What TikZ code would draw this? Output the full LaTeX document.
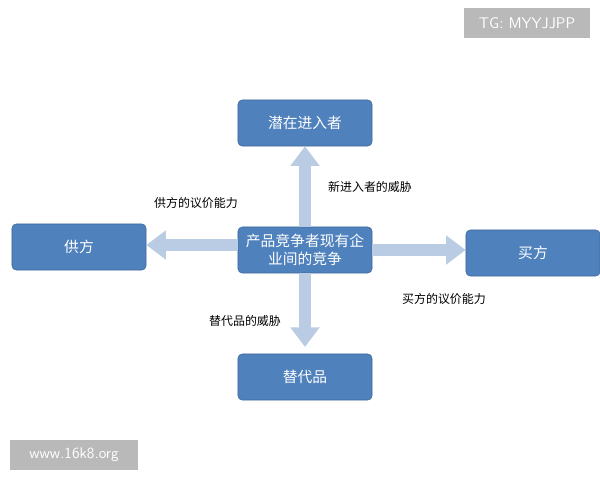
\documentclass[tikz,border=0pt]{standalone}
\usepackage{fontspec}
\setmainfont{Noto Sans CJK SC}
\usetikzlibrary{arrows.meta, positioning}
\definecolor{boxblue}{HTML}{4F81BD}
\definecolor{arrowfill}{HTML}{B9CCE4}
\begin{document}
\begin{tikzpicture}[
			x=0.025cm, y=-0.025cm,
			every node/.style={align=center},
			force/.style={rectangle, draw=boxblue!80!black, fill=boxblue, rounded corners=3pt, text=white, font=\fontsize{10.5}{13}\selectfont, minimum width=3.35cm, minimum height=1.15cm, inner sep=2pt},
			blockarrow/.style={line width=9pt, draw=arrowfill, -{Triangle[length=14pt, width=20pt]}},
			lbl/.style={font=\fontsize{8.5}{10}\selectfont},
			stamp/.style={fill=gray!55, text=white, font=\fontsize{11}{13}\selectfont\sffamily, minimum height=0.75cm, inner sep=3pt}
			]
			\useasboundingbox (0,0) rectangle (600,480);
			% Nodes
			\node[force] (core) at (305,250) {产品竞争者现有企\\业间的竞争};
			\node[force] (entrant) at (305,123) {潜在进入者};
			\node[force] (supplier) at (79,247) {供方};
			\node[force] (buyer) at (533,253) {买方};
			\node[force] (substitute) at (305,377) {替代品};
			
			% Arrows
			\draw[blockarrow] (core.north) -- (entrant.south);
			\draw[blockarrow] (core.west |- 0,245) -- (supplier.east |- 0,245);
			\draw[blockarrow] (core.east |- 0,250) -- (buyer.west |- 0,250);
			\draw[blockarrow] (core.south) -- (substitute.south |- 0,347);
			
			% Descriptions
			\node[lbl] (threatnew) at (370,187) {新进入者的威胁};
			\node[lbl] (powersup) at (196,203) {供方的议价能力};
			\node[lbl] (powerbuy) at (444,299) {买方的议价能力};
			\node[lbl] (threatsub) at (245,321) {替代品的威胁};
			
			% Watermarks
			\node[stamp, minimum width=3.15cm] (tg) at (527,23) {TG: MYYJJPP};
			\node[stamp, minimum width=3.2cm] (site) at (74,455) {www.16k8.org};
		\end{tikzpicture}
\end{document}
